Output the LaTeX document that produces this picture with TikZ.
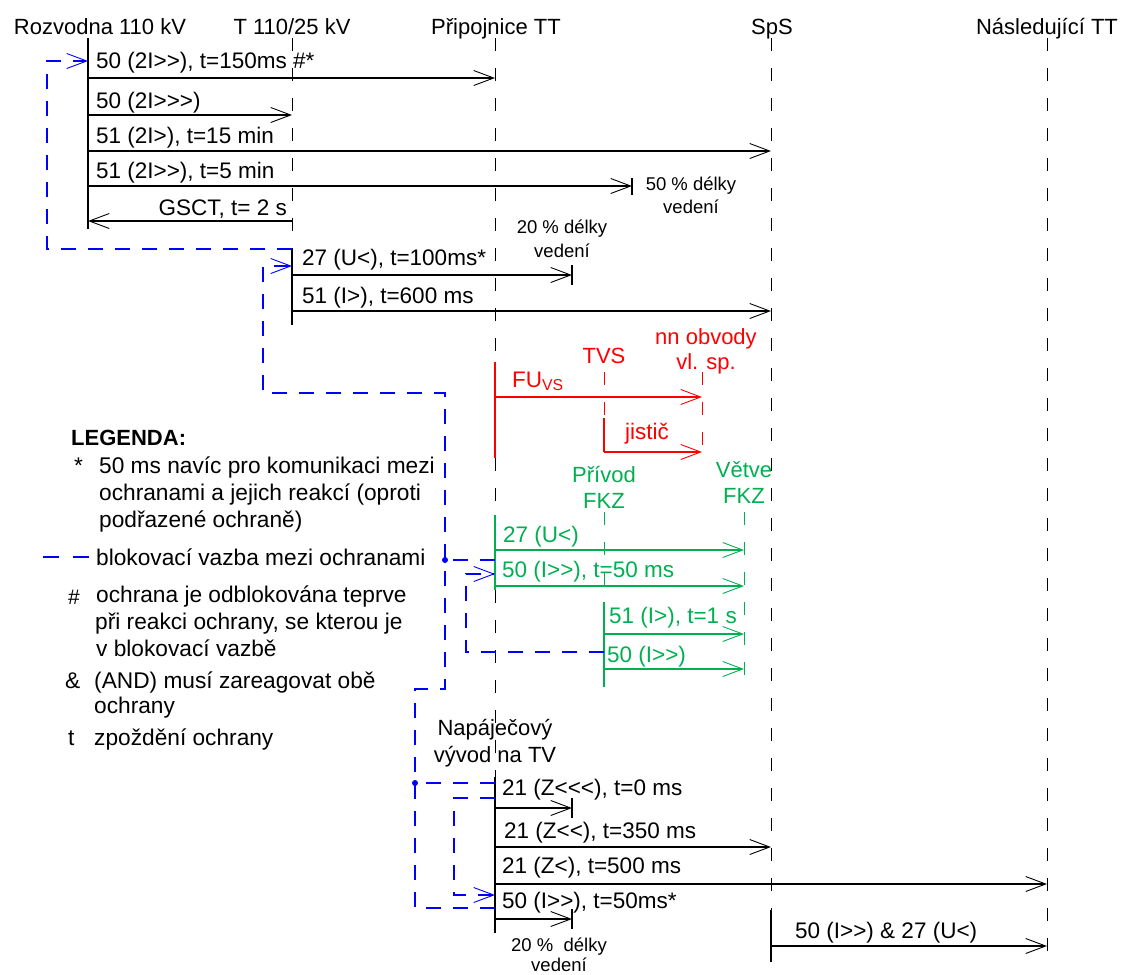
\documentclass[tikz,border=0pt]{standalone}
\usepackage{fontspec}
\setmainfont{Liberation Sans}[Ligatures=TeXOff]
\usetikzlibrary{arrows.meta}
\definecolor{cgreen}{RGB}{0,176,80}
\definecolor{cred}{RGB}{255,0,0}
\definecolor{cblue}{RGB}{0,0,255}
\begin{document}
\begin{tikzpicture}[x=1pt,y=-1pt,
  life/.style={line width=1pt, dash pattern=on 13pt off 17pt},
  sline/.style={line width=1.1pt},
  msg/.style={line width=1.1pt,-{Straight Barb[length=20pt,width=15pt,line width=0.9pt]}},
  blk/.style={cblue, line width=1.1pt, dash pattern=on 15pt off 12pt},
  blkarr/.style={blk,-{Straight Barb[length=20pt,width=15pt,line width=0.9pt]}},
  lbl/.style={font=\fontsize{22.5}{26}\selectfont, inner sep=0pt, anchor=base west},
  hdr/.style={font=\fontsize{22}{26}\selectfont, inner sep=0pt, anchor=base},
  note/.style={font=\fontsize{18.5}{22}\selectfont, inner sep=0pt, anchor=base},
  leg/.style={font=\fontsize{22.7}{26}\selectfont, inner sep=0pt, anchor=base west},
]
\useasboundingbox (0,0) rectangle (1136,975);

% ---------- headers
\node[hdr] (hR) at (100,34) {Rozvodna 110 kV};
\node[hdr] (hT) at (292,34) {T 110/25 kV};
\node[hdr] (hP) at (496,34) {Připojnice TT};
\node[hdr] (hS) at (772,34) {SpS};
\node[hdr] (hN) at (1047,34) {Následující TT};

% ---------- lifelines
\coordinate (R0) at (88,38);  \coordinate (R1) at (88,229);
\coordinate (T0) at (292,38); \coordinate (T1) at (292,249); \coordinate (T2) at (292,325);
\coordinate (P0) at (495,38); \coordinate (Pa) at (495,362); \coordinate (Pb) at (495,458);
\coordinate (Pc) at (495,515); \coordinate (Pd) at (495,590); \coordinate (P1) at (495,777);
\coordinate (P2) at (495,933);
\coordinate (S0) at (771,38); \coordinate (S1) at (771,910); \coordinate (S2) at (771,962);
\coordinate (N0) at (1047,38); \coordinate (N1) at (1047,967);
\draw[sline] (R0)--(R1);
\draw[life] (T0)--(T1); \draw[sline] (T1)--(T2);
\draw[life] (P0)--(Pa); \draw[sline,cred] (Pa)--(Pb);
\draw[life] (Pb)--(Pc); \draw[sline,cgreen] (Pc)--(Pd);
\draw[life] (Pd)--(P1); \draw[sline] (P1)--(P2);
\draw[life] (S0)--(S1); \draw[sline] (S1)--(S2);
\draw[life] (N0)--(N1);

% ---------- upper messages
\coordinate (m1s) at (88,78);  \coordinate (m1e) at (495,78);
\coordinate (m2s) at (88,115); \coordinate (m2e) at (292,115);
\coordinate (m3s) at (88,151); \coordinate (m3e) at (771,151);
\coordinate (m4s) at (88,186); \coordinate (m4e) at (632,186);
\coordinate (m5s) at (292,221); \coordinate (m5e) at (88,221);
\coordinate (m6s) at (292,275); \coordinate (m6e) at (572,275);
\coordinate (m7s) at (292,311); \coordinate (m7e) at (771,311);
\draw[msg] (m1s)--(m1e);
\draw[msg] (m2s)--(m2e);
\draw[msg] (m3s)--(m3e);
\draw[msg] (m4s)--(m4e);
\draw[msg] (m5s)--(m5e);
\draw[msg] (m6s)--(m6e);
\draw[msg] (m7s)--(m7e);
\coordinate (k4a) at (632,178); \coordinate (k4b) at (632,195);
\coordinate (k6a) at (572,265); \coordinate (k6b) at (572,285);
\draw[sline] (k4a)--(k4b);
\draw[sline] (k6a)--(k6b);

\node[lbl] (l1) at (96,68) {50 (2I>>), t=150ms \#*};
\node[lbl] (l2) at (96,108) {50 (2I>>>)};
\node[lbl] (l3) at (96,143) {51 (2I>), t=15 min};
\node[lbl] (l4) at (96,178) {51 (2I>>), t=5 min};
\node[lbl,anchor=base east] (l5) at (287,215) {GSCT, t= 2 s};
\node[lbl] (l6) at (302,265) {27 (U<), t=100ms*};
\node[lbl] (l7) at (302,303) {51 (I>), t=600 ms};

\node[note] (n50a) at (691,190) {50 \% délky};
\node[note] (n50b) at (691,213) {vedení};
\node[note] (n20a) at (562,233) {20 \% délky};
\node[note] (n20b) at (562,257) {vedení};

% ---------- red part
\coordinate (TV0) at (604,372); \coordinate (TV1) at (604,418); \coordinate (TV2) at (604,452);
\coordinate (NN0) at (702,372); \coordinate (NN1) at (702,452);
\draw[life,cred] (TV0)--(TV1); \draw[sline,cred] (TV1)--(TV2);
\draw[life,cred] (NN0)--(NN1);
\coordinate (r1s) at (495,397); \coordinate (r1e) at (702,397);
\draw[msg,cred] (r1s)--(r1e);
\draw[msg,cred] (TV2)--(NN1);
\node[hdr,cred] (hTVS) at (604,363) {TVS};
\node[hdr,cred] (hNN1) at (706,344) {nn obvody};
\node[hdr,cred] (hNN2) at (706,369) {vl. sp.};
\node[lbl,cred] (lFU) at (512,387) {FU\textsubscript{VS}};
\node[lbl,cred] (lji) at (625,439) {jistič};

% ---------- green part
\coordinate (PF0) at (604,512); \coordinate (PF1) at (604,602); \coordinate (PF2) at (604,687);
\coordinate (VF0) at (744,512); \coordinate (VF1) at (744,680);
\draw[life,cgreen] (PF0)--(PF1); \draw[sline,cgreen] (PF1)--(PF2);
\draw[life,cgreen] (VF0)--(VF1);
\node[hdr,cgreen] (hPF1) at (604,482) {Přívod};
\node[hdr,cgreen] (hPF2) at (604,508) {FKZ};
\node[hdr,cgreen] (hVF1) at (744,477) {Větve};
\node[hdr,cgreen] (hVF2) at (744,503) {FKZ};
\coordinate (g1s) at (495,550); \coordinate (g1e) at (744,550);
\coordinate (g2s) at (495,586); \coordinate (g2e) at (744,586);
\coordinate (g3s) at (604,634); \coordinate (g3e) at (744,634);
\coordinate (g4s) at (604,669); \coordinate (g4e) at (744,669);
\draw[msg,cgreen] (g1s)--(g1e);
\draw[msg,cgreen] (g2s)--(g2e);
\draw[msg,cgreen] (g3s)--(g3e);
\draw[msg,cgreen] (g4s)--(g4e);
\node[lbl,cgreen] (lg1) at (503,542) {27 (U<)};
\node[lbl,cgreen] (lg2) at (502,577) {50 (I>>), t=50 ms};
\node[lbl,cgreen] (lg3) at (609,623) {51 (I>), t=1 s};
\node[lbl,cgreen] (lg4) at (607,662) {50 (I>>)};

% ---------- bottom part
\node[hdr] (hNV1) at (495,735) {Napáječový};
\node[hdr] (hNV2) at (495,762) {vývod na TV};
\coordinate (b1s) at (495,808); \coordinate (b1e) at (572,808);
\coordinate (b2s) at (495,847); \coordinate (b2e) at (771,847);
\coordinate (b3s) at (495,884); \coordinate (b3e) at (1047,884);
\coordinate (b4s) at (495,919); \coordinate (b4e) at (572,919);
\coordinate (b5s) at (771,946); \coordinate (b5e) at (1047,946);
\draw[msg] (b1s)--(b1e);
\draw[msg] (b2s)--(b2e);
\draw[msg] (b3s)--(b3e);
\draw[msg] (b4s)--(b4e);
\draw[msg] (b5s)--(b5e);
\coordinate (kb1a) at (572,798); \coordinate (kb1b) at (572,818);
\coordinate (kb4a) at (572,909); \coordinate (kb4b) at (572,929);
\draw[sline] (kb1a)--(kb1b);
\draw[sline] (kb4a)--(kb4b);
\node[lbl] (lb1) at (502,795) {21 (Z<<<), t=0 ms};
\node[lbl] (lb2) at (504,838) {21 (Z<<), t=350 ms};
\node[lbl] (lb3) at (502,873) {21 (Z<), t=500 ms};
\node[lbl] (lb4) at (502,908) {50 (I>>), t=50ms*};
\node[lbl] (lb5) at (795,938) {50 (I>>) \& 27 (U<)};
\node[note] (nb20a) at (559,951) {20 \%~ délky};
\node[note] (nb20b) at (559,971) {vedení};

% ---------- blocking links (blue)
\coordinate (B1a) at (47,249); \coordinate (B1b) at (47,61); \coordinate (B1c) at (88,61);
\draw[blkarr] (T1) -- (B1a) -- (B1b) -- (B1c);

\coordinate (B2a) at (495,908); \coordinate (B2b) at (415,908); \coordinate (B2c) at (415,689);
\coordinate (B2d) at (445,689); \coordinate (B2e) at (445,393); \coordinate (B2f) at (263,393);
\coordinate (B2g) at (263,266); \coordinate (B2h) at (292,266);
\draw[blkarr] (B2a) -- (B2b) -- (B2c) -- (B2d) -- (B2e) -- (B2f) -- (B2g) -- (B2h);
\coordinate (J1) at (445,560); \coordinate (J1e) at (495,560);
\coordinate (J2) at (415,783); \coordinate (J2e) at (495,783);
\draw[blk] (J1e) -- (J1);
\draw[blk] (J2e) -- (J2);
\fill[cblue] (J1) circle (3pt);
\fill[cblue] (J2) circle (3pt);

\coordinate (B3a) at (604,652); \coordinate (B3b) at (466,652); \coordinate (B3c) at (466,574);
\coordinate (B3d) at (495,574);
\draw[blkarr] (B3a) -- (B3b) -- (B3c) -- (B3d);

\coordinate (B4a) at (495,798); \coordinate (B4b) at (454,798); \coordinate (B4c) at (454,895);
\coordinate (B4d) at (495,895);
\draw[blkarr] (B4a) -- (B4b) -- (B4c) -- (B4d);

% ---------- legend
\node[leg,font=\fontsize{22}{26}\selectfont\bfseries] (lgT) at (71,445) {LEGENDA:};
\node[leg] (lgs1) at (74,473) {*};
\node[leg] (lg1a) at (99,473) {50 ms navíc pro komunikaci mezi};
\node[leg] (lg1b) at (99,500) {ochranami a jejich reakcí (oproti};
\node[leg] (lg1c) at (99,527) {podřazené ochraně)};
\coordinate (ld0) at (43,557); \coordinate (ld1) at (59,557);
\coordinate (ld2) at (73,557); \coordinate (ld3) at (89,557);
\draw[cblue,line width=1.1pt] (ld0)--(ld1);
\draw[cblue,line width=1.1pt] (ld2)--(ld3);
\node[leg] (lg2) at (96,565) {blokovací vazba mezi ochranami};
\node[leg,font=\fontsize{21}{24}\selectfont] (lgs3) at (68,604) {\#};
\node[leg] (lg3a) at (96,602) {ochrana je odblokována teprve};
\node[leg] (lg3b) at (95,629) {při reakci ochrany, se kterou je};
\node[leg] (lg3c) at (96,656) {v blokovací vazbě};
\node[leg] (lgs4) at (65,688) {\&};
\node[leg] (lg4a) at (94,688) {(AND) musí zareagovat obě};
\node[leg] (lg4b) at (94,713) {ochrany};
\node[leg] (lgs5) at (68,745) {t};
\node[leg] (lg5) at (94,745) {zpoždění ochrany};
\end{tikzpicture}
\end{document}
